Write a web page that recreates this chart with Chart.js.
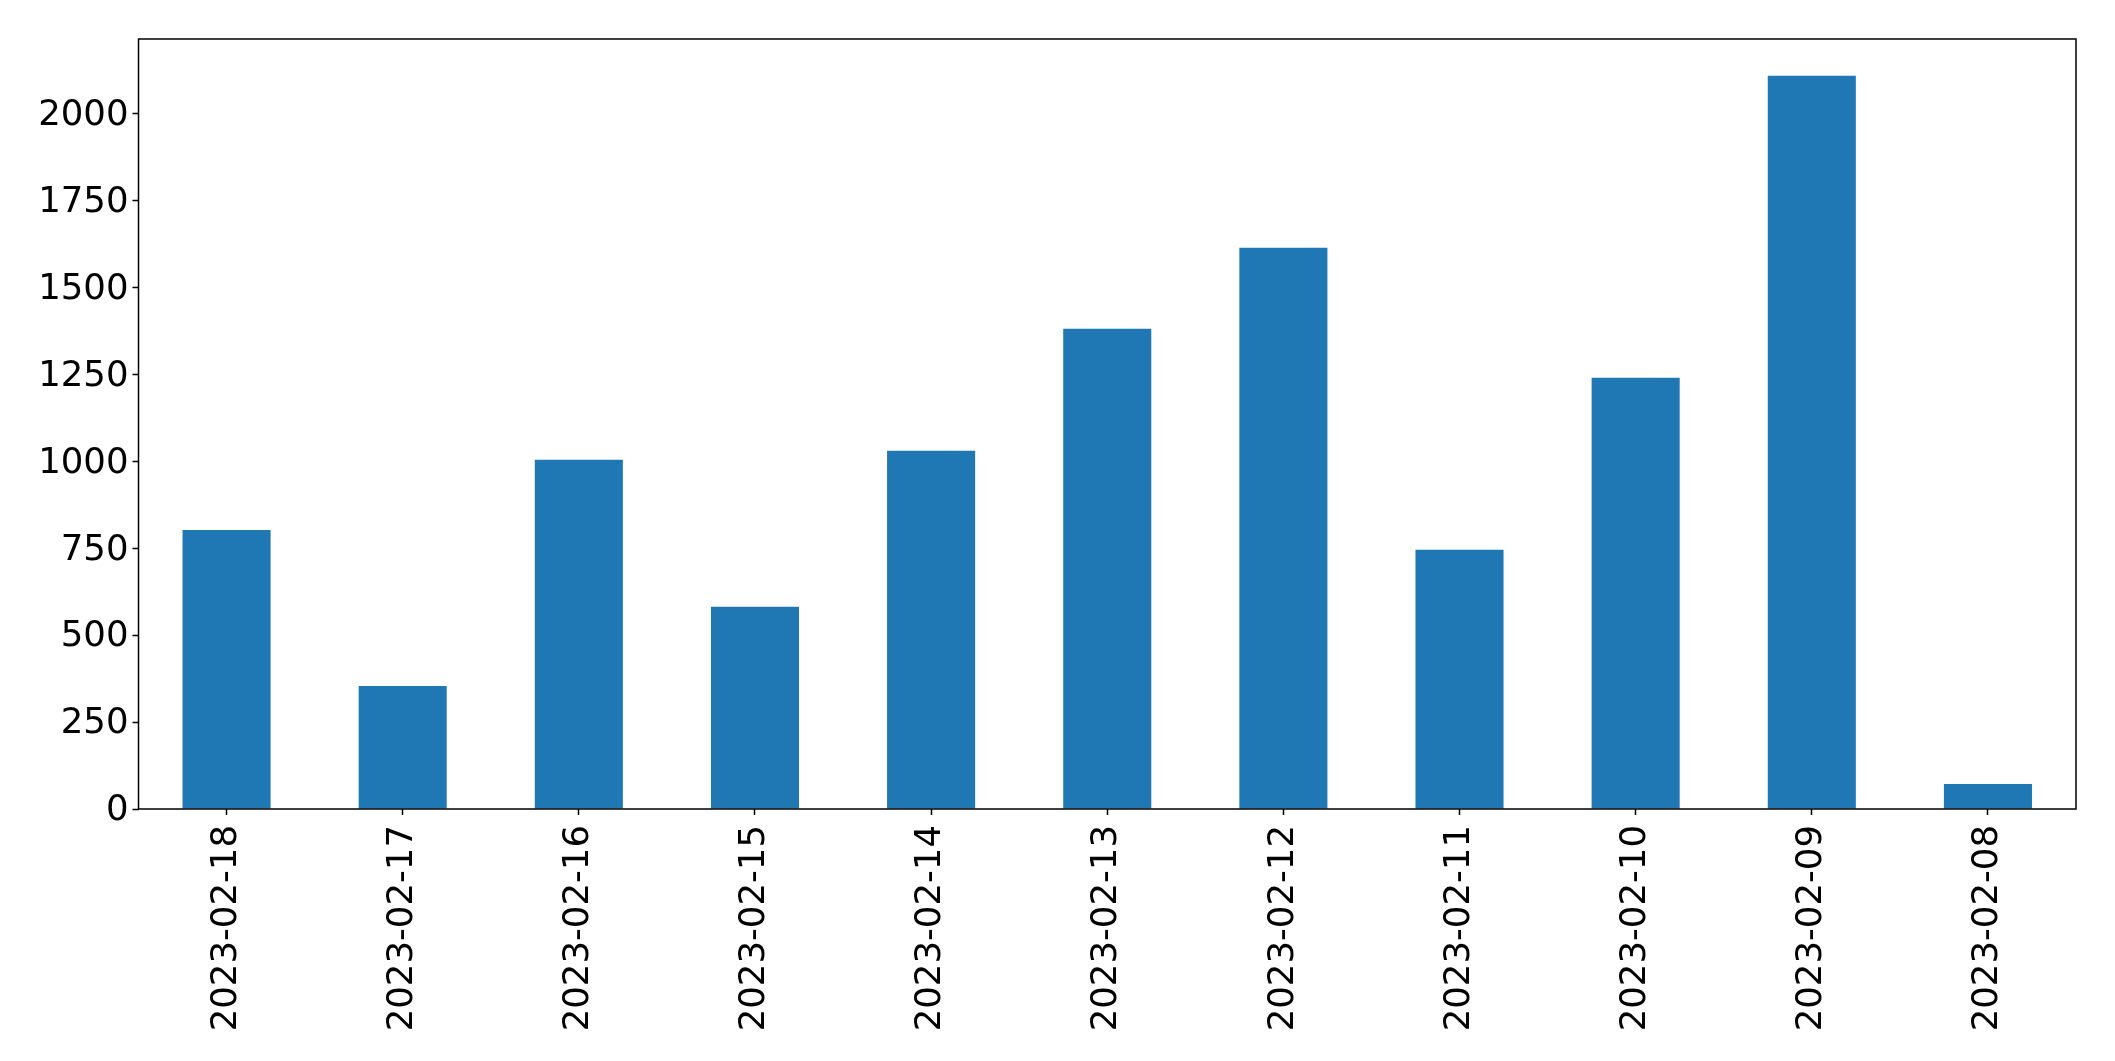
<!DOCTYPE html>
<html>
<head>
<meta charset="utf-8">
<script src="https://cdn.jsdelivr.net/npm/chart.js@4/dist/chart.umd.min.js"></script>
<style>
    html, body { margin: 0; padding: 0; background: #fff; }
    #wrap { width: 2115px; height: 1061px; position: relative; }
</style>
</head>
<body>
<div id="wrap"><canvas id="barChart"></canvas></div>
<script>
// Daily counts, newest first (as in the source)
const dates = ['2023-02-18', '2023-02-17', '2023-02-16', '2023-02-15', '2023-02-14',
    '2023-02-13', '2023-02-12', '2023-02-11', '2023-02-10', '2023-02-09', '2023-02-08'];
const counts = [803, 354, 1005, 582, 1031, 1382, 1615, 746, 1241, 2110, 72];
const yTicks = [0, 250, 500, 750, 1000, 1250, 1500, 1750, 2000];
const yMax = 2215.5;

const barColor = '#1f77b4';
const fontSpec = { family: 'DejaVu Sans', size: 35.5 };

// Draw the full box around the plot area (matplotlib style)
const frameBox = {
    id: 'frameBox',
    afterDraw(chart) {
        const { ctx, chartArea: a } = chart;
        ctx.save();
        ctx.strokeStyle = '#000';
        ctx.lineWidth = 1.5;
        ctx.strokeRect(a.left, a.top, a.right - a.left, a.bottom - a.top);
        ctx.restore();
    }
};

const ctx = document.getElementById('barChart').getContext('2d');
new Chart(ctx, {
    type: 'bar',
    data: {
        labels: dates,
        datasets: [{
            data: counts,
            backgroundColor: barColor,
            borderWidth: 0,
            barPercentage: 0.5,
            categoryPercentage: 1.0
        }]
    },
    options: {
        responsive: true,
        maintainAspectRatio: false,
        animation: false,
        layout: {
            padding: { top: 39, right: 39, left: 0, bottom: 0 }
        },
        plugins: {
            legend: { display: false },
            tooltip: { enabled: false }
        },
        scales: {
            x: {
                offset: true,
                grid: {
                    display: true,
                    offset: false,
                    drawOnChartArea: false,
                    drawTicks: true,
                    tickLength: 6,
                    tickColor: '#000',
                    tickWidth: 1.5
                },
                border: { display: false },
                ticks: {
                    color: '#000',
                    font: fontSpec,
                    minRotation: 90,
                    maxRotation: 90,
                    autoSkip: false,
                    padding: 10
                },
                afterFit(scale) {
                    scale.height = 1061 - 809;
                }
            },
            y: {
                min: 0,
                max: yMax,
                grid: {
                    display: true,
                    drawOnChartArea: false,
                    drawTicks: true,
                    tickLength: 6,
                    tickColor: '#000',
                    tickWidth: 1.5
                },
                border: { display: false },
                ticks: {
                    color: '#000',
                    font: fontSpec,
                    autoSkip: false,
                    padding: 4,
                    labelOffset: 2,
                    callback: value => String(value)
                },
                afterBuildTicks(scale) {
                    scale.ticks = yTicks.map(v => ({ value: v }));
                },
                afterFit(scale) {
                    scale.width = 138.5;
                }
            }
        }
    },
    plugins: [frameBox]
});
</script>
</body>
</html>
